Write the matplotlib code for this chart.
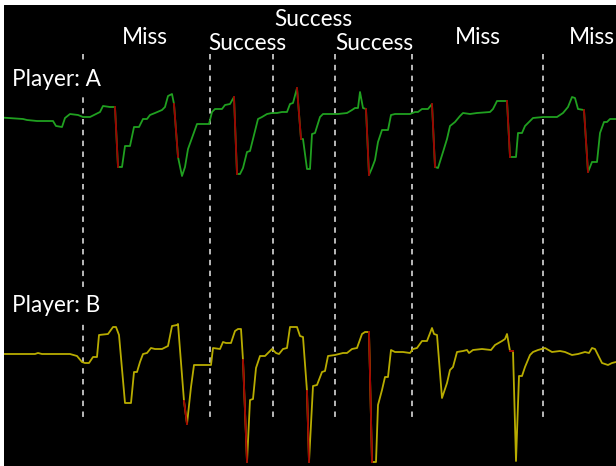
import matplotlib.pyplot as plt

# Player A trace (frame, signal)  - red parts are the sharp drops
a_t = [4, 23, 27, 37, 50, 53, 56, 62, 65, 70, 78, 83, 90, 100, 103, 110, 115,
       118, 122, 125, 130, 134, 139, 143, 147, 150, 155, 162, 165, 168, 172, 174,
       178, 182, 185, 188, 197, 209, 212, 215, 222, 225, 230, 234,
       237, 240, 243, 247, 250, 258, 262, 267, 272, 277, 282, 287, 290, 293, 297,
       301, 303, 307, 310, 312, 315, 320, 323, 332, 338, 347, 352, 355, 358, 360, 363, 366,
       369, 372, 375, 378, 382, 388, 391, 395, 410, 415, 418, 422, 428, 432,
       435, 438, 443, 447, 450, 455, 460, 463, 470, 477, 490, 493, 497, 507,
       510, 516, 518, 522, 525, 528, 533, 543, 557, 563, 568, 572, 575, 578, 584,
       588, 592, 597, 600, 604, 607, 610, 616]
a_y = [117.7, 119, 120, 121, 121, 121, 126, 127, 118, 114, 115, 117, 117, 112, 106, 107, 107,
       167, 167, 146, 146, 127, 127, 119, 119, 115, 113, 110, 107, 96, 94, 104,
       157, 176, 167, 149, 124, 124, 112, 109, 109, 105, 104, 97,
       174, 174, 168, 152, 151, 119, 117, 114, 113, 113, 112, 112, 104, 103, 88,
       139, 139, 169, 169, 134, 133, 117, 114, 114, 114, 113, 110, 108, 108, 92, 108, 109,
       175, 168, 160, 142, 130, 130, 115, 114, 114, 112, 112, 109, 109, 104,
       167, 168, 152, 139, 126, 122, 116, 113, 114, 113, 112, 109, 101, 101,
       157, 157, 133, 133, 126, 123, 118, 117, 117, 113, 107, 97, 98, 109, 110,
       172, 162, 162, 133, 122, 122, 119, 119]
a_red = [(16, 17), (31, 32), (43, 44), (58, 59), (75, 76), (89, 90), (103, 104), (118, 119)]

# Player B trace
b_t = [4, 35, 38, 42, 70, 77, 82, 85, 89, 93, 97, 99, 108, 113, 116, 119, 125, 131,
       134, 137, 140, 143, 147, 151, 155, 162, 168, 172, 177, 178, 184, 187,
       191, 194, 208, 211, 213, 220, 223, 226, 231, 235, 238, 241, 243, 247,
       250, 253, 256, 260, 265, 269, 272, 276, 279, 283, 287, 290, 297, 300, 303, 307, 309,
       313, 317, 322, 325, 328, 335, 343, 347, 352, 357, 362, 365, 369, 372,
       376, 378, 382, 385, 388, 391, 395, 403, 410, 413, 417, 422, 427, 432, 434, 437,
       442, 447, 450, 453, 457, 463, 467, 469, 473, 482, 491, 495, 502, 505, 507, 510, 513,
       516, 519, 522, 525, 530, 533, 538, 545, 552, 560, 565, 572, 578, 585, 589,
       592, 595, 602, 608, 612, 616]
b_y = [354, 354, 353, 354, 354, 356, 362, 363, 363, 357, 357, 335, 334, 327, 327, 335, 403, 403,
       372, 372, 362, 354, 353, 348, 349, 349, 346, 326, 325, 324, 401, 424,
       387, 365, 365, 365, 348, 349, 342, 343, 343, 331, 329, 329, 360, 462,
       400, 399, 368, 356, 356, 352, 349, 353, 354, 349, 348, 327, 327, 336, 337, 391, 462,
       386, 385, 372, 371, 356, 355, 353, 353, 349, 348, 334, 332, 332, 462,
       462, 405, 390, 377, 377, 350, 352, 352, 353, 349, 348, 341, 341, 328, 334, 335,
       398, 383, 370, 367, 352, 351, 350, 353, 350, 349, 350, 345, 341, 339, 334, 351, 351,
       461, 376, 376, 367, 355, 352, 350, 348, 352, 351, 352, 355, 354, 352, 353,
       348, 349, 363, 365, 363, 362]
b_red = [(30, 31), (44, 45), (61, 62), (75, 76), (108, 109)]

# annotations
labels = ['Miss', 'Success', 'Success', 'Success', 'Miss', 'Miss']
label_x = [145, 247, 313, 374, 478, 592]
label_y = [37, 44, 20, 44, 37, 37]
events = [83, 210, 273, 335, 412, 543]

fig = plt.figure(figsize=(6.16, 4.66), dpi=100, facecolor='white')
ax = fig.add_axes([4 / 616, 0, 612 / 616, 461 / 466])
ax.set_facecolor('black')
ax.set_xlim(4, 616)
ax.set_ylim(466, 5)
ax.axis('off')
ax.add_patch(plt.Rectangle((4, 5), 612, 461, color='black', zorder=0))

for x in events:
    ax.plot([x, x], [54, 417], color='#c8c8c8', lw=1.3, ls=(0, (3, 3)), zorder=1)

ax.plot(a_t, a_y, color='#20a020', lw=1.3, zorder=2)
for i, j in a_red:
    ax.plot(a_t[i:j + 1], a_y[i:j + 1], color='#a00000', lw=1.3, zorder=3)

ax.plot(b_t, b_y, color='#b8ac00', lw=1.3, zorder=2)
for i, j in b_red:
    ax.plot(b_t[i:j + 1], b_y[i:j + 1], color='#a00000', lw=1.3, zorder=3)

for s, x, y in zip(labels, label_x, label_y):
    ax.text(x, y, s, color='white', fontsize=16.3, family='Lato', ha='center', va='center')

box = dict(facecolor='black', edgecolor='none', pad=4)
ax.text(12, 80, 'Player: A', color='white', fontsize=16.3, family='Lato',
        ha='left', va='center', bbox=box, zorder=5)
ax.text(12, 305, 'Player: B', color='white', fontsize=16.3, family='Lato',
        ha='left', va='center', bbox=box, zorder=5)

fig.savefig('out.png', dpi=100, facecolor='white')
